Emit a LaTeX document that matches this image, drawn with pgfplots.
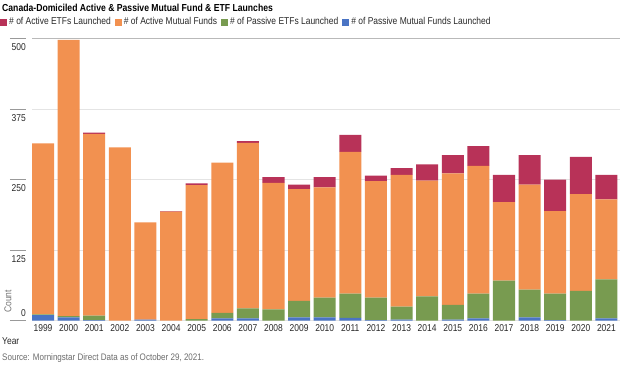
\documentclass[border=0pt]{standalone}
\usepackage{fontspec}
\setmainfont{Liberation Sans}[FakeStretch=0.85]
\usepackage{pgfplots}
\usepackage{pgfplotstable}
\pgfplotsset{compat=1.18}
\definecolor{cred}{RGB}{184,50,88}
\definecolor{corange}{RGB}{242,145,80}
\definecolor{cgreen}{RGB}{120,155,80}
\definecolor{cblue}{RGB}{74,116,196}
\definecolor{ctext}{RGB}{40,40,40}
\definecolor{cgrid}{RGB}{228,228,228}
\pgfplotstableread{
x blue green orange red
0 10 1 303 0
1 6 2 489 0
2 1 8 322 2
3 0 0 307 0
4 2 0 172 0
5 0 0 193 1
6 0 3 237 3
7 4 10 266 0
8 4 18 293 3
9 0 20 224 10
10 6 29 198 8
11 6 35 195 18
12 5 43 251 30
13 1 40 206 10
14 2 23 233 12
15 0 43 205 29
16 2 26 233 32
17 4 44 226 35
18 0 71 139 48
19 6 49 186 52
20 1 47 146 56
21 0 53 171 66
22 4 69 142 43
}\data
\begin{document}
\begin{tikzpicture}
\path[use as bounding box] (0bp,0bp) rectangle (624bp,366bp);
\begin{axis}[
  at={(32bp,45.3bp)}, anchor=south west,
  scale only axis, width=588bp, height=282.4bp,
  ybar stacked, bar width=0.86,
  xmin=-0.43, xmax=22.53, ymin=0, ymax=500,
  enlargelimits=false,
  axis line style={draw=none},
  xtick={0,...,22},
  xticklabels={1999,2000,2001,2002,2003,2004,2005,2006,2007,2008,2009,2010,2011,2012,2013,2014,2015,2016,2017,2018,2019,2020,2021},
  xtick style={draw=none},
  xticklabel style={font=\fontsize{10}{12}\selectfont, text=ctext, inner sep=0pt, yshift=12.7bp},
  ytick={125,250,375,500},
  ymajorgrids, major grid style={cgrid, line width=0.8bp},
  ytick pos=left, tick align=outside, major tick length=16bp,
  ytick style={xshift=-6bp, color=gray!80, line width=0.8bp},
  yticklabel style={font=\fontsize{10}{12}\selectfont, text=ctext, inner sep=0pt, anchor=north east, xshift=10bp, yshift=-5bp},
  extra y ticks={0},
  extra y tick style={yticklabel style={anchor=south east, yshift=8.5bp}},
  /pgf/number format/assume math mode=true,
  reverse legend,
  legend style={at={(axis description cs:-0.0544,1.0577)}, anchor=west, draw=none, fill=none,
    font=\fontsize{10}{12}\selectfont, text=ctext, inner sep=0pt,
    /tikz/every even column/.append style={column sep=2bp}},
  legend columns=-1,
  legend image code/.code={\fill[#1] (0bp,-3.5bp) rectangle (7bp,3.5bp);},
]
\addplot[fill=cblue, draw=none] table[x=x,y=blue]{\data};
\addlegendentry{\# of Passive Mutual Funds Launched}
\addplot[fill=cgreen, draw=none] table[x=x,y=green]{\data};
\addlegendentry{\# of Passive ETFs Launched}
\addplot[fill=corange, draw=none] table[x=x,y=orange]{\data};
\addlegendentry{\# of Active Mutual Funds}
\addplot[fill=cred, draw=none] table[x=x,y=red]{\data};
\addlegendentry{\# of Active ETFs Launched}
\draw[gray!55, line width=0.8bp] (rel axis cs:0,1) -- (rel axis cs:1,1);
\end{axis}
\node[anchor=west, inner sep=0pt, text=black, font=\bfseries\fontsize{10.2}{12}\selectfont] at (2bp,358bp) {Canada-Domiciled Active \& Passive Mutual Fund \& ETF Launches};
\node[anchor=west, inner sep=0pt, rotate=90, text=gray!90!black, font=\fontsize{10}{12}\selectfont] at (8bp,53bp) {Count};
\node[anchor=west, inner sep=0pt, text=ctext, font=\fontsize{10}{12}\selectfont] at (2bp,25bp) {Year};
\node[anchor=west, inner sep=0pt, text=gray!85!black, font=\fontsize{9.5}{11}\selectfont] at (2bp,8bp) {Source: Morningstar Direct Data as of October 29, 2021.};
\end{tikzpicture}
\end{document}
